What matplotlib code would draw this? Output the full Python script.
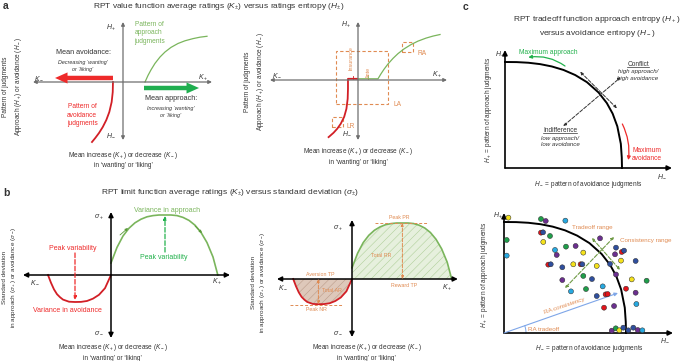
import numpy as np
import matplotlib
matplotlib.use("Agg")
import matplotlib.pyplot as plt
from matplotlib.patches import Rectangle
from matplotlib.lines import Line2D

W, H = 685, 361

plt.rcParams['font.family'] = ['Liberation Sans', 'DejaVu Sans']
plt.rcParams['mathtext.fontset'] = 'custom'
plt.rcParams['mathtext.rm'] = 'Liberation Sans'
plt.rcParams['mathtext.it'] = 'Liberation Sans:italic'
plt.rcParams['mathtext.bf'] = 'Liberation Sans:bold'
plt.rcParams['hatch.linewidth'] = 0.35

DARK = '#333333'
GREY = '#6e6e6e'
RED = '#d21f26'
RED_B = '#ee2a2a'
GREEN = '#7ab55c'
GREEN_B = '#22b14c'
ORANGE = '#e08b52'
BLUE_L = '#7ea6e8'

# ---- data (sketch units) ----
# a, left: value function
a1_app_k = [0.367, 0.417, 0.467, 0.533, 0.617, 0.700, 0.800, 0.917, 1.033, 1.167, 1.283, 1.400]
a1_app_h = [0.0, 0.11, 0.203, 0.31, 0.417, 0.5, 0.577, 0.642, 0.687, 0.723, 0.747, 0.762]
a1_avo_k = [-0.167, -0.171, -0.189, -0.228, -0.278, -0.337, -0.4, -0.462, -0.517]
a1_avo_h = [0.0, -0.167, -0.333, -0.5, -0.633, -0.75, -0.85, -0.933, -1.0]

# a, right: value function with flat segments
a2_app_k = [0.0, 0.333, 0.383, 0.433, 0.5, 0.583, 0.667, 0.767, 0.883, 1.0, 1.133, 1.25, 1.367]
a2_app_h = [0.02, 0.02, 0.103, 0.178, 0.267, 0.36, 0.44, 0.518, 0.59, 0.648, 0.698, 0.732, 0.758]
a2_avo_k = [-0.017, -0.167, -0.167, -0.172, -0.193, -0.23, -0.288, -0.347, -0.408, -0.49]
a2_avo_h = [0.02, 0.02, -0.147, -0.313, -0.48, -0.613, -0.73, -0.813, -0.88, -0.952]

# b: limit function (used by both sketches)
b_app_k = [0, 0.1, 0.2, 0.3, 0.4, 0.5, 0.6, 0.7, 0.8, 0.9, 1.0, 1.1, 1.2, 1.3, 1.4, 1.5, 1.6, 1.7, 1.78]
b_app_s = [0.2, 0.46, 0.65, 0.78, 0.87, 0.93, 0.97, 0.99, 1.0, 1.0, 1.0, 0.99, 0.96, 0.91, 0.83, 0.71, 0.54, 0.3, 0.0]
b_avo_k = [-1.05, -1.0, -0.95, -0.9, -0.85, -0.8, -0.7, -0.6, -0.5, -0.4, -0.3, -0.2, -0.1, 0.0]
b_avo_s = [0, -0.13, -0.24, -0.32, -0.37, -0.41, -0.445, -0.45, -0.448, -0.433, -0.394, -0.33, -0.22, 0.0]

# c: tradeoff frontier
front_hm = [0, 0.1, 0.2, 0.3, 0.4, 0.5, 0.6, 0.7, 0.8, 0.87, 0.92, 0.96, 0.99, 0.998, 1.0]
front_hp = [1, 0.999, 0.993, 0.98, 0.958, 0.925, 0.877, 0.81, 0.712, 0.613, 0.513, 0.393, 0.228, 0.1, 0.0]

# c, bottom: individual judgments
dot_hm = [0.036, 0.303, 0.342, 0.503, 0.303, 0.320, 0.377, 0.022, 0.322, 0.022, 0.418, 0.508,
          0.587, 0.787, 0.650, 0.432, 0.363, 0.383, 0.478, 0.568, 0.628, 0.642, 0.760, 0.918,
          0.910, 0.965, 0.984, 0.869, 0.959, 1.079, 0.478, 0.650, 0.721, 0.549, 0.672, 0.809,
          0.760, 0.833, 0.850, 0.820, 0.902, 1.0, 1.047, 1.079, 1.169, 1.085, 0.918,
          0.883, 0.916, 0.945, 0.978, 1.019, 1.060, 1.096, 1.134]
dot_hp = [1.039, 1.027, 1.009, 1.012, 0.904, 0.907, 0.874, 0.838, 0.820, 0.697, 0.748, 0.778,
          0.784, 0.853, 0.724, 0.703, 0.616, 0.619, 0.592, 0.619, 0.619, 0.619, 0.604, 0.769,
          0.709, 0.730, 0.742, 0.622, 0.652, 0.649, 0.477, 0.514, 0.486, 0.375, 0.396, 0.420,
          0.333, 0.348, 0.351, 0.228, 0.243, 0.399, 0.483, 0.363, 0.471, 0.261, 0.527,
          0.021, 0.042, 0.024, 0.048, 0.024, 0.048, 0.027, 0.024]
dot_col = ['y', 'g', 'p', 'c', 'r', 'b', 'g', 'g', 'y', 'c', 'c', 'g',
           'p', 'p', 'y', 'p', 'r', 'b', 'b', 'y', 'r', 'b', 'y', 'b',
           'p', 'r', 'b', 'b', 'y', 'b', 'p', 'g', 'b', 'c', 'g', 'c',
           'b', 'r', 'r', 'r', 'p', 'r', 'y', 'p', 'g', 'c', 'p',
           'p', 'g', 'y', 'b', 'b', 'b', 'p', 'c']
palette = {'y': '#f5e21c', 'g': '#1f9e4a', 'p': '#6b2f8f', 'b': '#2f4f9e', 'c': '#27a9e1', 'r': '#e3141b'}

fig = plt.figure(figsize=(W / 100, H / 100), dpi=100)


def sketch_ax(ox, oy, sx, sy, box):
    l, t, r, b = box
    ax = fig.add_axes([l / W, 1 - b / H, (r - l) / W, (b - t) / H])
    ax.set_xlim((l - ox) / sx, (r - ox) / sx)
    ax.set_ylim((oy - b) / sy, (oy - t) / sy)
    ax.set_axis_off()
    return ax


def arrow(ax, p0, p1, style='-|>', color=DARK, lw=1.0, ms=6, ls='-', rad=0.0):
    ax.annotate('', xy=p1, xytext=p0, annotation_clip=False,
                arrowprops=dict(arrowstyle=style, color=color, lw=lw, mutation_scale=ms,
                                linestyle=ls, shrinkA=0, shrinkB=0,
                                connectionstyle=f'arc3,rad={rad}'))


def txt(px, py, s, size=4.7, color=DARK, ha='center', va='center', **kw):
    return fig.text(px / W, 1 - py / H, s, fontsize=size, color=color, ha=ha, va=va, **kw)


K_LABEL = 'Mean increase ($K_+$) or decrease ($K_-$)\nin \u2018wanting\u2019 or \u2018liking\u2019'
H_YLABEL = 'Pattern of judgments\nApproach ($H_+$) or avoidance ($H_-$)'
S_YLABEL = 'Standard deviation\n' + r'in approach ($\sigma_+$) or avoidance ($\sigma_-$)'

# ---------- panel a ----------
txt(3, 6, 'a', size=7.5, weight='bold', ha='left')
txt(219, 6, r'RPT value function average ratings ($K_{\pm}$) versus ratings entropy ($H_{\pm}$)', size=6)

ax = sketch_ax(123, 82, 60, 60, (25, 15, 222, 148))
arrow(ax, (-1.5, 0), (1.483, 0), '<|-|>', GREY, 0.9, 5)
arrow(ax, (0, -0.967), (0, 1.0), '<|-|>', GREY, 0.9, 5)
ax.plot(a1_app_k, a1_app_h, color=GREEN, lw=0.9)
ax.plot(a1_avo_k, a1_avo_h, color=RED, lw=1.3)
arrow(ax, (-0.167, 0.067), (-1.133, 0.067), 'simple,head_length=0.9,head_width=0.8,tail_width=0.32', RED_B, 0, 10)
arrow(ax, (0.35, -0.1), (1.267, -0.1), 'simple,head_length=0.9,head_width=0.8,tail_width=0.32', '#1fae4f', 0, 10)

txt(149, 33, 'Pattern of\napproach\njudgments', size=4.8, color=GREEN, linespacing=1.3)
txt(83, 52.5, 'Mean avoidance:', size=5.2)
txt(83, 66, 'Decreasing \u2018wanting\u2019\nor \u2018liking\u2019', size=3.9, style='italic', linespacing=1.3)
txt(171, 99, 'Mean approach:', size=5.2)
txt(171, 112, 'Increasing \u2018wanting\u2019\nor \u2018liking\u2019', size=3.9, style='italic', linespacing=1.3)
txt(82, 115.5, 'Pattern of\navoidance\njudgments', size=4.8, color=RED_B, linespacing=1.3)
txt(116, 28, '$H_+$', size=5, ha='right')
txt(116, 135, '$H_-$', size=5, ha='right')
txt(39, 78, '$K_-$', size=5)
txt(203, 78, '$K_+$', size=5)
txt(13, 87, H_YLABEL, size=4.7, rotation=90, linespacing=1.5)
txt(123, 159.5, K_LABEL, size=4.7, linespacing=1.35)

ax = sketch_ax(358, 80, 60, 60, (262, 15, 455, 148))
arrow(ax, (-1.467, 0), (1.483, 0), '<|-|>', GREY, 0.9, 5)
arrow(ax, (0, -1.0), (0, 0.967), '<|-|>', GREY, 0.9, 5)
ax.plot(a2_app_k, a2_app_h, color=GREEN, lw=0.9)
ax.plot(a2_avo_k, a2_avo_h, color=RED, lw=1.3)
ax.plot([-0.083, -0.083], [0.02, 0.06], color=RED, lw=0.6)
ax.plot([0.167, 0.167], [0.02, 0.06], color=GREEN, lw=0.6)
for (x0, y0, w, h) in [(-0.372, -0.4, 0.872, 0.883), (0.728, 0.467, 0.189, 0.171), (-0.438, -0.783, 0.183, 0.171)]:
    ax.add_patch(Rectangle((x0, y0), w, h, fill=False, ec=ORANGE, lw=0.8, ls=(0, (3, 2))))
txt(351, 58, 'Insurance', size=3.9, color=ORANGE, rotation=90)
txt(368, 72, 'Ante', size=3.9, color=ORANGE, rotation=90)
txt(398, 104.3, 'LA', size=4.8, color=ORANGE)
txt(422.5, 53.3, 'RA', size=4.8, color=ORANGE)
txt(350.7, 126, 'LR', size=4.8, color=ORANGE)
txt(351, 25, '$H_+$', size=5, ha='right')
txt(352, 133, '$H_-$', size=5, ha='right')
txt(277, 75, '$K_-$', size=5)
txt(437, 75, '$K_+$', size=5)
txt(255, 82, H_YLABEL, size=4.7, rotation=90, linespacing=1.5)
txt(358, 156, K_LABEL, size=4.7, linespacing=1.35)

# ---------- panel b ----------
txt(3, 192.5, 'b', size=7.5, weight='bold', ha='left')
txt(230, 192, r'RPT limit function average ratings ($K_{\pm}$) versus standard deviation ($\sigma_{\pm}$)', size=6)

ax = sketch_ax(111, 275, 60, 60, (15, 205, 238, 345))
arrow(ax, (-1.467, 0), (1.983, 0), '<|-|>', 'black', 1.1, 7)
arrow(ax, (0, -1.05), (0, 1.05), '<|-|>', 'black', 1.1, 7)
ax.plot(b_app_k, b_app_s, color=GREEN, lw=1.2)
ax.plot(b_avo_k, b_avo_s, color=RED, lw=1.3)
arrow(ax, (0.9, 0.383), (0.9, 0.983), '-|>', GREEN_B, 0.9, 5, '--')
arrow(ax, (-0.6, 0.367), (-0.6, -0.417), '-|>', RED_B, 0.9, 5, '--')
arrow(ax, (0.15, 0.667), (0.283, 0.783), '-|>', '#5a9a3a', 0.6, 4)
arrow(ax, (1.4, 0.817), (1.517, 0.7), '-|>', '#5a9a3a', 0.6, 4)
txt(167, 210, 'Variance in approach', size=5, color=GREEN)
txt(164, 257.7, 'Peak variability', size=5, color=GREEN_B)
txt(72.5, 249, 'Peak variability', size=5, color=RED_B)
txt(67, 310, 'Variance in avoidance', size=5, color=RED_B)
txt(104, 217, r'$\sigma_+$', size=5, ha='right')
txt(104, 332, r'$\sigma_-$', size=5, ha='right')
txt(35, 281.7, '$K_-$', size=5)
txt(217, 281.7, '$K_+$', size=5)
txt(10, 277, S_YLABEL, size=4.6, rotation=90, linespacing=1.4)
txt(113, 352, K_LABEL, size=4.7, linespacing=1.35)

ax = sketch_ax(352, 279, 56, 56, (268, 205, 465, 345))
ax.fill_between(b_app_k, 0, b_app_s, facecolor='#e6f0dd', edgecolor='#a9cc92', hatch='////', lw=0)
ax.fill_between(b_avo_k, 0, b_avo_s, facecolor='#dec8ba', edgecolor='#b79684', hatch='////', lw=0)
arrow(ax, (-1.34, 0), (1.89, 0), '<|-|>', 'black', 1.1, 7)
arrow(ax, (0, -1.036), (0, 1.054), '<|-|>', 'black', 1.1, 7)
ax.plot(b_app_k, b_app_s, color=GREEN, lw=1.2)
ax.plot(b_avo_k, b_avo_s, color=RED, lw=1.3)
ax.plot([0.41, 1.34], [1.0, 1.0], color=ORANGE, lw=0.7, ls=(0, (3, 2)))
ax.plot([-1.1, -0.16], [-0.46, -0.46], color=ORANGE, lw=0.7, ls=(0, (3, 2)))
arrow(ax, (0.9, 0.0), (0.9, 1.0), '<|-|>', ORANGE, 0.7, 4, '--')
arrow(ax, (-0.6, 0.0), (-0.6, -0.45), '<|-|>', ORANGE, 0.7, 4, '--')
txt(399.7, 217.3, 'Peak PR', size=3.8, color=ORANGE)
txt(380.7, 255.7, 'Total RR', size=3.8, color=ORANGE)
txt(404.5, 285.7, 'Reward TP', size=3.8, color=ORANGE)
txt(320, 274.3, 'Aversion TP', size=3.8, color=ORANGE)
txt(332, 290, 'Total AR', size=3.8, color=ORANGE)
txt(316, 309.3, 'Peak NR', size=3.8, color=ORANGE)
txt(343, 228.3, r'$\sigma_+$', size=5, ha='right')
txt(343, 332.7, r'$\sigma_-$', size=5, ha='right')
txt(283.3, 287.3, '$K_-$', size=5)
txt(446.7, 288.3, '$K_+$', size=5)
txt(259, 282, S_YLABEL, size=4.6, rotation=90, linespacing=1.4)
txt(366.7, 352, K_LABEL, size=4.7, linespacing=1.35)

# ---------- panel c ----------
txt(463, 7, 'c', size=7.5, weight='bold', ha='left')
txt(597, 26.5, 'RPT tradeoff function approach entropy ($H_+$)\nversus avoidance entropy ($H_-$)', size=6, linespacing=1.3)

ax = sketch_ax(505, 168, 117, 106, (495, 40, 680, 172))
arrow(ax, (0, 0), (1.427, 0), '-|>', 'black', 1.2, 7)
arrow(ax, (0, 0), (0, 1.113), '-|>', 'black', 1.2, 7)
ax.plot(front_hm, front_hp, color='black', lw=1.4)
arrow(ax, (0.643, 0.908), (0.956, 0.563), '<|-|>', DARK, 0.7, 4, '--')
arrow(ax, (0.498, 0.396), (0.989, 0.856), '<|-|>', DARK, 0.7, 4, '--')
arrow(ax, (0.513, 0.962), (0.199, 1.044), '-|>', GREEN_B, 0.9, 5, rad=0.2)
arrow(ax, (1.003, 0.415), (1.054, 0.075), '-|>', RED_B, 0.9, 5, rad=-0.15)
txt(548, 52.3, 'Maximum approach', size=4.8, color=GREEN_B)
t_conf = txt(638, 64, 'Conflict', size=4.7)
txt(638, 75, 'high approach/\nhigh avoidance', size=4.4, style='italic', linespacing=1.3)
t_ind = txt(560, 130, 'Indifference', size=4.7)
txt(560, 141.5, 'low approach/\nlow avoidance', size=4.4, style='italic', linespacing=1.3)
txt(647, 155, 'Maximum\navoidance', size=4.8, color=RED_B, linespacing=1.2)
txt(500, 55, '$H_+$', size=5)
txt(662, 176, '$H_-$', size=5)
txt(488, 110, '$H_+$ = pattern of approach judgments', size=4.7, rotation=90)
txt(588, 185, '$H_-$ = pattern of avoidance judgments', size=4.7)

ax = sketch_ax(504, 333, 122, 111, (494, 205, 680, 338))
arrow(ax, (0, 0), (1.385, 0), '-|>', 'black', 1.2, 7)
arrow(ax, (0, 0), (0, 1.081), '-|>', 'black', 1.2, 7)
ax.plot(front_hm, front_hp, color='black', lw=1.4)
arrow(ax, (0, 0), (0.934, 0.36), '-|>', BLUE_L, 0.8, 5)
ang = np.radians(np.linspace(0, 19, 10))
ax.plot(22 * np.cos(ang) / 122, 22 * np.sin(ang) / 111, color=BLUE_L, lw=0.7)
arrow(ax, (0.5, 0.405), (0.902, 0.865), '<|-|>', '#6f9a45', 0.8, 4, '--')
arrow(ax, (0.721, 0.856), (0.951, 0.568), '<|-|>', '#6f9a45', 0.8, 4, '--')
ax.scatter(dot_hm, dot_hp, s=13, c=[palette[k] for k in dot_col], edgecolors='#2a2a2a', linewidths=0.35, zorder=5, clip_on=False)
txt(592, 227.3, 'Tradeoff range', size=4.5, color=ORANGE)
txt(645.8, 240.7, 'Consistency range', size=4.5, color=ORANGE)
txt(564, 306, 'RA consistency', size=4.5, color=ORANGE, rotation=18.5)
txt(544, 329.3, 'RA tradeoff', size=4.5, color=ORANGE)
txt(498, 216, '$H_+$', size=5)
txt(665, 340, '$H_-$', size=5)
txt(485, 275, '$H_+$ = pattern of approach judgments', size=4.7, rotation=90)
txt(589, 349, '$H_-$ = pattern of avoidance judgments', size=4.7)

# underline the two regime names
fig.canvas.draw()
renderer = fig.canvas.get_renderer()
for t in (t_conf, t_ind):
    bb = t.get_window_extent(renderer)
    fig.add_artist(Line2D([bb.x0 / W, bb.x1 / W], [(bb.y0 + 0.3) / H] * 2, color=DARK, lw=0.5))

fig.savefig('out.png', dpi=100)
